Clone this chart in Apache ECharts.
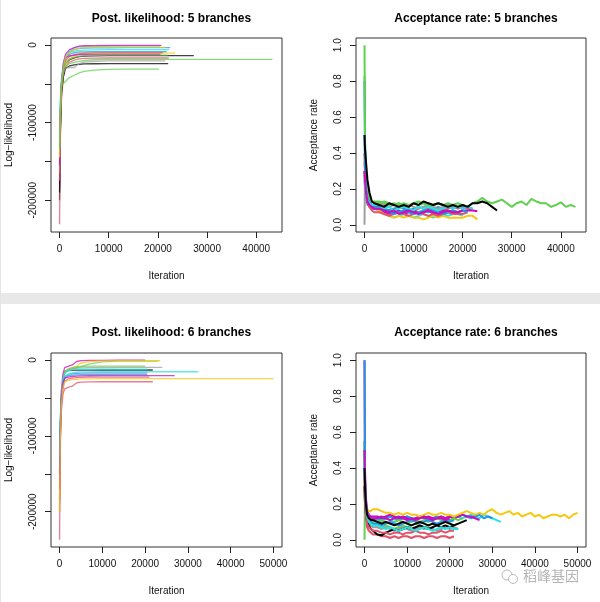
<!DOCTYPE html>
<html>
<head>
<meta charset="UTF-8">
<title>MCMC trace</title>
<script src="https://cdn.jsdelivr.net/npm/echarts@6/dist/echarts.min.js"></script>
<style>
  html, body { margin: 0; padding: 0; background: #fff; }
  #main { width: 600px; height: 602px; }
</style>
</head>
<body>
<div id="main"></div>
<script>
// R default palette
const PAL = {
    black: '#000000', red: '#DF536B', green: '#61D04F', blue: '#2297E6',
    cyan: '#28E2E5', magenta: '#CD0BBC', yellow: '#F5C710', gray: '#9E9E9E'
};

// ---- Post. likelihood, values at these iterations, then flat to the end iteration
const likIter = [0, 150, 400, 800, 1200, 2000, 3000, 4000, 5000, 7000, 10000, 14000];

const lik5Colors = ['black', 'red', 'green', 'blue', 'cyan', 'magenta', 'yellow', 'black',
                    'gray', 'green', 'blue', 'cyan', 'red', 'magenta', 'yellow', 'green'];
const lik5Ends = [27300, 22200, 43300, 22500, 20500, 20700, 23500, 22100,
                  21500, 20200, 21800, 22300, 21000, 20500, 21500, 22000];
const lik5Values = [
    [-200000, -115000, -62000, -38000, -24000, -19000, -16500, -15000, -14400, -14000, -13800, -13700],
    [-231000, -125000, -68000, -40000, -28000, -22000, -19500, -18000, -17300, -17000, -16800, -16800],
    [-175000, -100000, -58000, -36000, -27000, -24000, -22500, -21000, -20000, -19000, -18600, -18500],
    [-150000, -95000, -52000, -30000, -18000, -9000, -6000, -4500, -4000, -3800, -3600, -3500],
    [-120000, -80000, -45000, -24000, -15000, -8000, -3500, -2200, -1800, -1700, -1600, -1500],
    [-180000, -90000, -48000, -22000, -12000, -6000, -3500, -1500, -1000, -800, -600, -500],
    [-160000, -100000, -60000, -35000, -24000, -18000, -14000, -12000, -11000, -10500, -10400, -10400],
    [-190000, -110000, -60000, -40000, -30000, -27000, -25500, -24800, -24400, -24200, -24100, -24100],
    [-165000, -100000, -55000, -36000, -30000, -29000, -29000, -24000, -22000, -21000, -20500, -20500],
    [-140000, -80000, -52000, -50000, -47000, -42000, -39000, -36000, -34000, -32500, -31500, -31000],
    [-130000, -85000, -48000, -27000, -17000, -12000, -10000, -9000, -8800, -8600, -8500, -8500],
    [-110000, -70000, -42000, -24000, -15000, -10000, -8000, -7000, -6500, -6200, -6000, -6000],
    [-175000, -95000, -52000, -30000, -20000, -15000, -12500, -11000, -10500, -10200, -10000, -10000],
    [-155000, -92000, -50000, -26000, -16000, -14000, -13000, -12500, -12200, -12100, -12000, -12000],
    [-145000, -90000, -50000, -28000, -16000, -10000, -6000, -4000, -3500, -3200, -3000, -3000],
    [-135000, -88000, -50000, -30000, -22000, -18000, -16000, -14500, -13800, -13300, -13100, -13000]
];

const lik6Colors = ['black', 'red', 'green', 'blue', 'cyan', 'magenta', 'yellow', 'gray',
                    'red', 'green', 'blue', 'cyan', 'magenta', 'yellow'];
const lik6Ends = [21800, 21800, 23000, 20500, 32400, 20000, 23500, 24000,
                  21000, 20000, 20500, 20500, 26900, 50000];
const lik6Values = [
    [-185000, -105000, -55000, -26000, -15000, -14000, -13800, -13500, -13400, -13300, -13200, -13200],
    [-237000, -120000, -68000, -45000, -38000, -36000, -34500, -30000, -29200, -28900, -28700, -28700],
    [-160000, -95000, -55000, -28000, -18000, -14000, -12000, -10000, -9000, -5000, -2500, -1500],
    [-150000, -95000, -52000, -30000, -22000, -19000, -18000, -17500, -17200, -17100, -17000, -17000],
    [-140000, -90000, -50000, -30000, -22000, -19000, -17000, -16000, -15800, -15600, -15500, -15500],
    [-150000, -90000, -42000, -18000, -10000, -8500, -6500, -2000, -800, -500, -400, -300],
    [-180000, -100000, -55000, -30000, -16000, -12000, -10000, -8000, -4000, -2000, -1200, -1000],
    [-190000, -108000, -58000, -30000, -17000, -13000, -11500, -10800, -10300, -10000, -9900, -9800],
    [-200000, -110000, -62000, -38000, -28000, -25000, -24000, -23200, -22800, -22600, -22500, -22500],
    [-130000, -85000, -48000, -26000, -16000, -12000, -10000, -9000, -8500, -8200, -8000, -8000],
    [-145000, -92000, -52000, -32000, -24000, -21000, -20000, -19500, -19200, -19100, -19000, -19000],
    [-125000, -82000, -46000, -26000, -17000, -14000, -13000, -12500, -12200, -12100, -12000, -12000],
    [-170000, -98000, -52000, -30000, -24000, -22500, -21800, -21200, -21000, -20800, -20700, -20700],
    [-200000, -110000, -60000, -36000, -29000, -27000, -26000, -25500, -25000, -24800, -24700, -24700]
];

// ---- Acceptance rate, values at these iterations (series stop where their list ends)
const accIter = [0, 100, 300, 600, 1000, 1500, 2000];
for (let x = 3000; x <= 50000; x += 1000) accIter.push(x);

const acc5Colors = ['red', 'green', 'blue', 'cyan', 'magenta', 'yellow', 'gray',
                    'green', 'red', 'blue', 'cyan', 'magenta', 'black'];
const acc5Values = [
    [0.35, 0.30, 0.22, 0.16, 0.13, 0.11, 0.10,
     0.10, 0.09, 0.08, 0.09, 0.07, 0.08, 0.09, 0.08, 0.09, 0.10, 0.09, 0.08, 0.09, 0.08, 0.09, 0.10, 0.09, 0.10, 0.09, 0.085],
    [1.0, 0.47, 0.30, 0.20, 0.15, 0.13, 0.13,
     0.13, 0.12, 0.11, 0.12, 0.11, 0.12, 0.11, 0.12, 0.13, 0.12, 0.12, 0.11, 0.12, 0.11, 0.12, 0.11, 0.10, 0.11, 0.10, 0.12,
     0.13, 0.15, 0.13, 0.12, 0.13, 0.14, 0.12, 0.10, 0.12, 0.13, 0.11, 0.145, 0.13, 0.12, 0.12, 0.10, 0.11, 0.125, 0.10, 0.11, 0.10],
    [0.8, 0.45, 0.28, 0.18, 0.13, 0.11, 0.10,
     0.10, 0.09, 0.08, 0.09, 0.10, 0.09, 0.08, 0.09, 0.10, 0.09, 0.08, 0.09, 0.10, 0.09, 0.10, 0.09, 0.10, 0.09, 0.10, 0.09],
    [0.3, 0.20, 0.14, 0.11, 0.10, 0.10, 0.09,
     0.09, 0.07, 0.05, 0.04, 0.05, 0.06, 0.05, 0.04, 0.05, 0.06, 0.05, 0.04, 0.05, 0.06, 0.05, 0.06, 0.06, 0.05],
    [0.3, 0.22, 0.16, 0.12, 0.10, 0.09, 0.09,
     0.08, 0.07, 0.06, 0.07, 0.08, 0.06, 0.07, 0.08, 0.07, 0.07, 0.08, 0.06, 0.07, 0.08, 0.07, 0.08, 0.07, 0.08, 0.08, 0.08, 0.075],
    [0.3, 0.25, 0.18, 0.14, 0.11, 0.10, 0.09,
     0.08, 0.06, 0.05, 0.04, 0.05, 0.04, 0.05, 0.04, 0.04, 0.03, 0.04, 0.05, 0.04, 0.05, 0.04, 0.04, 0.04, 0.04, 0.05, 0.05, 0.03],
    [0.0, 0.32, 0.25, 0.18, 0.15, 0.13, 0.12,
     0.12, 0.11, 0.10, 0.11, 0.12, 0.10, 0.11, 0.10, 0.09, 0.10, 0.11, 0.10, 0.09, 0.10, 0.11, 0.10, 0.10, 0.11, 0.10],
    [0.83, 0.40, 0.26, 0.19, 0.15, 0.13, 0.12,
     0.12, 0.13, 0.12, 0.11, 0.12, 0.11, 0.10, 0.12, 0.11, 0.12, 0.10, 0.11, 0.12, 0.11, 0.10, 0.11, 0.12, 0.11],
    [0.4, 0.28, 0.19, 0.13, 0.10, 0.08, 0.07,
     0.07, 0.06, 0.05, 0.06, 0.07, 0.06, 0.05, 0.06, 0.07, 0.06, 0.05, 0.06, 0.05, 0.06, 0.07, 0.06, 0.06, 0.06, 0.07],
    [0.5, 0.33, 0.20, 0.15, 0.12, 0.10, 0.09,
     0.09, 0.08, 0.07, 0.06, 0.07, 0.08, 0.07, 0.06, 0.07, 0.08, 0.07, 0.08, 0.07, 0.06, 0.07, 0.08, 0.07, 0.08, 0.07],
    [0.25, 0.22, 0.17, 0.14, 0.12, 0.11, 0.11,
     0.11, 0.09, 0.10, 0.08, 0.09, 0.10, 0.09, 0.08, 0.10, 0.09, 0.10, 0.09, 0.08, 0.09, 0.10, 0.09, 0.10, 0.09, 0.10, 0.09],
    [0.3, 0.25, 0.18, 0.13, 0.11, 0.10, 0.09,
     0.09, 0.08, 0.07, 0.08, 0.06, 0.07, 0.08, 0.07, 0.06, 0.07, 0.08, 0.07, 0.06, 0.07, 0.08, 0.07, 0.07, 0.08],
    [0.5, 0.42, 0.35, 0.25, 0.18, 0.13, 0.12,
     0.11, 0.10, 0.12, 0.11, 0.10, 0.11, 0.10, 0.12, 0.11, 0.13, 0.12, 0.11, 0.12, 0.11, 0.10, 0.11, 0.10, 0.11, 0.10, 0.12, 0.12, 0.13, 0.12, 0.10, 0.08]
];

const acc6Colors = ['red', 'green', 'cyan', 'blue', 'magenta', 'yellow', 'gray',
                    'black', 'red', 'green', 'blue', 'cyan', 'magenta', 'black'];
const acc6Values = [
    [0.3, 0.20, 0.12, 0.07, 0.05, 0.04, 0.03,
     0.03, 0.02, 0.02, 0.01, 0.02, 0.01, 0.02, 0.02, 0.01, 0.02, 0.02, 0.01, 0.02, 0.02, 0.01, 0.02, 0.02, 0.01, 0.02],
    [0.0, 0.25, 0.18, 0.13, 0.10, 0.09, 0.08,
     0.08, 0.07, 0.08, 0.07, 0.06, 0.07, 0.08, 0.07, 0.08, 0.09, 0.08, 0.07, 0.08, 0.09, 0.08, 0.09, 0.10, 0.09, 0.08, 0.09],
    [0.5, 0.35, 0.22, 0.15, 0.12, 0.11, 0.10,
     0.11, 0.10, 0.12, 0.11, 0.10, 0.11, 0.12, 0.13, 0.12, 0.11, 0.12, 0.13, 0.12, 0.11, 0.12, 0.13, 0.12, 0.11, 0.12, 0.13, 0.12, 0.13, 0.14, 0.13, 0.12, 0.14, 0.13, 0.12, 0.11, 0.10],
    [0.55, 0.33, 0.20, 0.15, 0.12, 0.11, 0.11,
     0.12, 0.11, 0.12, 0.13, 0.12, 0.11, 0.12, 0.13, 0.12, 0.12, 0.13, 0.12, 0.11, 0.12, 0.13, 0.12, 0.12, 0.13, 0.12, 0.13, 0.14, 0.13, 0.12, 0.13, 0.14, 0.12, 0.13, 0.12],
    [1.0, 0.40, 0.24, 0.17, 0.14, 0.13, 0.13,
     0.13, 0.12, 0.13, 0.14, 0.13, 0.12, 0.13, 0.12, 0.11, 0.12, 0.13, 0.12, 0.13, 0.12, 0.12, 0.13, 0.12, 0.13, 0.12, 0.13, 0.14, 0.13, 0.13, 0.12, 0.11],
    [0.2, 0.19, 0.18, 0.17, 0.16, 0.16, 0.17,
     0.17, 0.16, 0.15, 0.15, 0.14, 0.15, 0.14, 0.15, 0.14, 0.14, 0.13, 0.14, 0.15, 0.14, 0.14, 0.15, 0.14, 0.14, 0.13, 0.14,
     0.15, 0.16, 0.15, 0.14, 0.15, 0.14, 0.16, 0.17, 0.15, 0.14, 0.15, 0.16, 0.14, 0.15, 0.13, 0.14, 0.15, 0.13, 0.14, 0.12,
     0.13, 0.14, 0.14, 0.13, 0.14, 0.12, 0.14, 0.15],
    [0.4, 0.30, 0.20, 0.13, 0.10, 0.08, 0.07,
     0.07, 0.06, 0.07, 0.06, 0.05, 0.06, 0.07, 0.06, 0.05, 0.06, 0.07, 0.06, 0.07, 0.06, 0.05, 0.06, 0.07, 0.06, 0.07, 0.06],
    [0.3, 0.22, 0.15, 0.10, 0.08, 0.06, 0.05,
     0.03, 0.025, 0.04, 0.05, 0.06, 0.05, 0.06, 0.07, 0.06, 0.07, 0.08, 0.07, 0.06, 0.07, 0.08, 0.07, 0.08, 0.07, 0.08],
    [0.35, 0.22, 0.14, 0.09, 0.07, 0.06, 0.05,
     0.05, 0.04, 0.04, 0.03, 0.04, 0.04, 0.03, 0.04, 0.04, 0.05, 0.04, 0.04, 0.03, 0.04, 0.04, 0.05, 0.04, 0.05, 0.05],
    [0.55, 0.30, 0.20, 0.15, 0.12, 0.11, 0.10,
     0.10, 0.11, 0.10, 0.09, 0.10, 0.11, 0.10, 0.09, 0.10, 0.11, 0.10, 0.11, 0.10, 0.11, 0.12, 0.11, 0.10, 0.11, 0.12, 0.11, 0.12],
    [1.0, 0.35, 0.22, 0.16, 0.12, 0.10, 0.09,
     0.09, 0.08, 0.09, 0.10, 0.09, 0.08, 0.09, 0.10, 0.11, 0.10, 0.09, 0.10, 0.11, 0.10, 0.09, 0.10, 0.11, 0.10, 0.11],
    [0.45, 0.30, 0.19, 0.13, 0.10, 0.09, 0.08,
     0.08, 0.07, 0.06, 0.07, 0.06, 0.05, 0.06, 0.07, 0.06, 0.05, 0.06, 0.07, 0.06, 0.05, 0.06, 0.07, 0.06, 0.07, 0.06, 0.06],
    [0.5, 0.33, 0.21, 0.15, 0.13, 0.12, 0.12,
     0.12, 0.13, 0.12, 0.11, 0.12, 0.13, 0.12, 0.11, 0.12, 0.11, 0.12, 0.13, 0.12, 0.11, 0.12, 0.12, 0.11, 0.12],
    [0.4, 0.30, 0.20, 0.14, 0.12, 0.11, 0.11,
     0.10, 0.09, 0.10, 0.09, 0.08, 0.09, 0.10, 0.09, 0.08, 0.09, 0.10, 0.09, 0.08, 0.09, 0.08, 0.09, 0.10, 0.09, 0.08, 0.09, 0.10, 0.11]
];

// ---- axis ticks / labels
const lik5XTicks = [0, 10000, 20000, 30000, 40000];
const lik6XTicks = [0, 10000, 20000, 30000, 40000, 50000];
const likYTicks = [0, -50000, -100000, -150000, -200000];
const likYLabels = [0, -100000, -200000];
const accYTicks = [0, 0.2, 0.4, 0.6, 0.8, 1.0];

const titles = ['Post. likelihood: 5 branches', 'Acceptance rate: 5 branches',
                'Post. likelihood: 6 branches', 'Acceptance rate: 6 branches'];

const FONT = 'Liberation Sans, Arial, sans-serif';
const grids = [
    { left: 51, top: 38, width: 231, height: 194 },
    { left: 356, top: 38, width: 230, height: 194 },
    { left: 51, top: 353, width: 231, height: 194 },
    { left: 356, top: 353, width: 230, height: 194 }
];

function xAxisOf(gi, min, max, ticks) {
    return {
        gridIndex: gi, type: 'value', min: min, max: max,
        axisLine: { show: false, onZero: false },
        splitLine: { show: false },
        axisTick: { show: true, length: 6, lineStyle: { color: '#222' }, customValues: ticks },
        axisLabel: { customValues: ticks, margin: 12, fontSize: 10, color: '#111', fontFamily: FONT,
                     formatter: v => String(v) },
        name: 'Iteration', nameLocation: 'middle', nameGap: 39,
        nameTextStyle: { fontSize: 10, color: '#111', fontFamily: FONT }
    };
}
function yAxisOf(gi, min, max, ticks, labels, name, fmt) {
    return {
        gridIndex: gi, type: 'value', min: min, max: max,
        axisLine: { show: false, onZero: false },
        splitLine: { show: false },
        axisTick: { show: true, length: 6, lineStyle: { color: '#222' }, customValues: ticks },
        axisLabel: { customValues: labels, rotate: 90, margin: 13, fontSize: 10, color: '#111',
                     fontFamily: FONT, formatter: fmt },
        name: name, nameLocation: 'middle', nameGap: 37,
        nameTextStyle: { fontSize: 10, color: '#111', fontFamily: FONT }
    };
}

let series = [];
function addLik(gi, values, ends, colors) {
    values.forEach((vals, k) => {
        let data = likIter.map((x, i) => [x, vals[i]]);
        data.push([ends[k], vals[vals.length - 1]]);
        series.push({
            type: 'line', xAxisIndex: gi, yAxisIndex: gi, data: data,
            showSymbol: false, symbol: 'none', silent: true,
            lineStyle: { color: PAL[colors[k]], width: 1.3, opacity: 0.75 }
        });
    });
}
function addAcc(gi, values, colors) {
    values.forEach((vals, k) => {
        series.push({
            type: 'line', xAxisIndex: gi, yAxisIndex: gi,
            data: vals.map((v, i) => [accIter[i], v]),
            showSymbol: false, symbol: 'none', silent: true,
            lineStyle: { color: PAL[colors[k]], width: 2 }
        });
    });
}
addLik(0, lik5Values, lik5Ends, lik5Colors);
addAcc(1, acc5Values, acc5Colors);
addLik(2, lik6Values, lik6Ends, lik6Colors);
addAcc(3, acc6Values, acc6Colors);

const option = {
    animation: false,
    backgroundColor: '#fff',
    title: titles.map((t, i) => ({
        text: t, textAlign: 'center',
        left: grids[i].left + grids[i].width / 2,
        top: i < 2 ? 8 : 322,
        textStyle: { fontSize: 12, fontWeight: 'bold', color: '#000', fontFamily: FONT }
    })),
    grid: grids.map(g => Object.assign({ show: true, borderColor: '#333', borderWidth: 1 }, g)),
    xAxis: [
        xAxisOf(0, -1740, 45240, lik5XTicks),
        xAxisOf(1, -1736, 45136, lik5XTicks),
        xAxisOf(2, -2000, 52000, lik6XTicks),
        xAxisOf(3, -2000, 52000, lik6XTicks)
    ],
    yAxis: [
        yAxisOf(0, -241000, 9000, likYTicks, likYLabels, 'Log\u2212likelihood', v => String(v)),
        yAxisOf(1, -0.04, 1.04, accYTicks, accYTicks, 'Acceptance rate', v => v.toFixed(1)),
        yAxisOf(2, -246500, 9200, likYTicks, likYLabels, 'Log\u2212likelihood', v => String(v)),
        yAxisOf(3, -0.04, 1.04, accYTicks, accYTicks, 'Acceptance rate', v => v.toFixed(1))
    ],
    graphic: [
        { type: 'rect', shape: { x: 0, y: 293, width: 600, height: 11 }, style: { fill: '#e8e8e8' }, silent: true },
        { type: 'rect', shape: { x: 0, y: 0, width: 1, height: 602 }, style: { fill: '#e4e4e4' }, silent: true },
        { type: 'circle', shape: { cx: 507, cy: 575, r: 5 }, style: { fill: 'none', stroke: '#bbb', lineWidth: 1 }, silent: true },
        { type: 'circle', shape: { cx: 513, cy: 579, r: 4.5 }, style: { fill: '#fff', stroke: '#bbb', lineWidth: 1 }, silent: true },
        { type: 'text', left: 523, top: 569,
          style: { text: '稻峰基因', fill: 'rgba(130,130,130,0.6)', font: '14px "Noto Sans CJK SC"' }, silent: true }
    ],
    series: series
};

const chart = echarts.init(document.getElementById('main'), null, { renderer: 'canvas' });
chart.setOption(option);
</script>
</body>
</html>
